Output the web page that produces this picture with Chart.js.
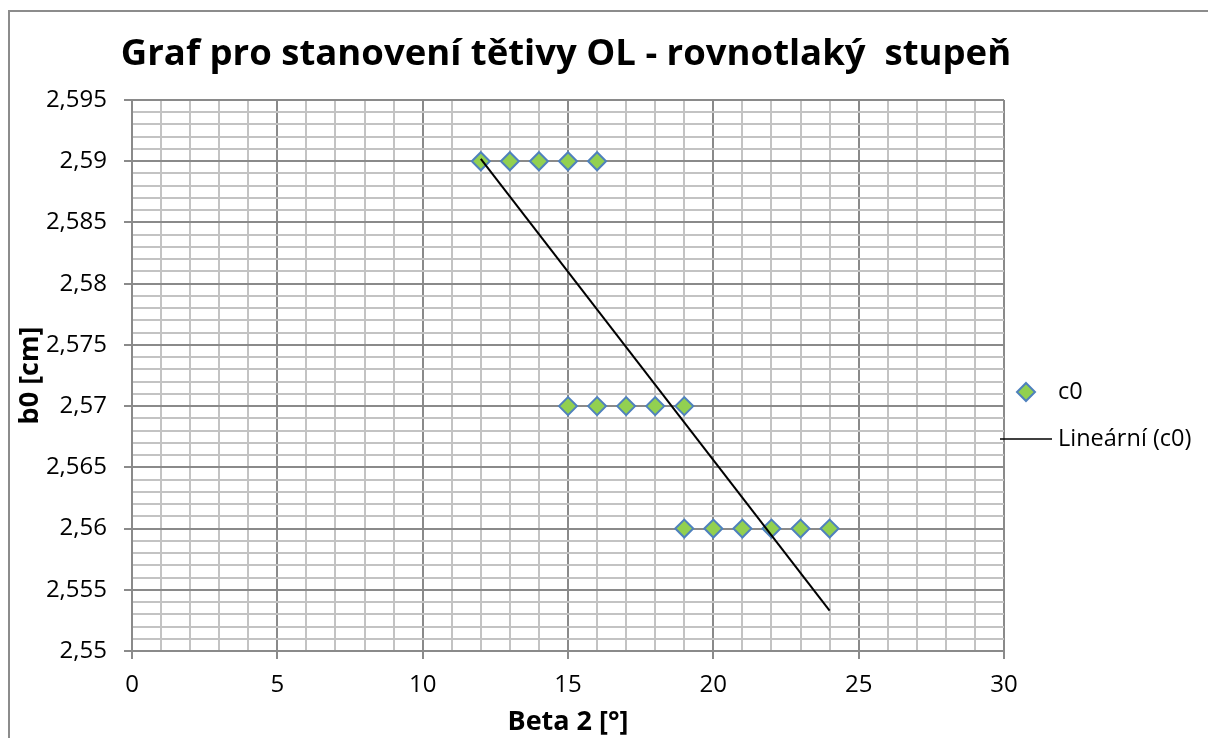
<!DOCTYPE html>
<html>
<head>
<meta charset="utf-8">
<script src="https://cdn.jsdelivr.net/npm/chart.js@4.4.1/dist/chart.umd.min.js"></script>
<style>
  html, body { margin: 0; padding: 0; background: #fff; overflow: hidden; }
  #frame { position: absolute; left: 8px; top: 10px; width: 2000px; height: 2000px;
           border-top: 2px solid #8c8c8c; border-left: 2px solid #8c8c8c; }
  #graf { position: absolute; left: 0; top: 0; }
</style>
</head>
<body>
<div id="frame"></div>
<canvas id="graf" width="1208" height="738"></canvas>
<script>
// measured points (Beta 2 vs. b0)
const betaX = [12, 13, 14, 15, 16, 15, 16, 17, 18, 19, 19, 20, 21, 22, 23, 24];
const c0Y = [2.59, 2.59, 2.59, 2.59, 2.59, 2.57, 2.57, 2.57, 2.57, 2.57, 2.56, 2.56, 2.56, 2.56, 2.56, 2.56];
// linear trend line end points
const trendX = [12, 24];
const trendY = [2.5902, 2.5533];
// axis tick labels
const xTickLabels = ['0', '5', '10', '15', '20', '25', '30'];
const yTickLabels = ['2,55', '2,555', '2,56', '2,565', '2,57', '2,575', '2,58', '2,585', '2,59', '2,595'];

const chartTitle = 'Graf pro stanovení tětivy OL - rovnotlaký  stupeň';
const majorColor = '#8a8a8a';
const minorColor = '#c3c3c3';
const fontName = '"Open Sans", Lato, sans-serif';

function isMajorX(v) { return Math.round(v) % 5 === 0; }
function isMajorY(v) { return Math.round(v * 1000) % 5 === 0; }

// title and legend drawn where Excel put them
const excelBits = {
    id: 'excelBits',
    afterDraw(chart) {
        const ctx = chart.ctx;
        ctx.save();
        ctx.fillStyle = '#000';
        ctx.textBaseline = 'middle';
        ctx.textAlign = 'center';
        ctx.font = 'bold 36.5px ' + fontName;
        ctx.fillText(chartTitle, 566, 55);

        // c0 marker
        const mx = 1026, my = 392, r = 9;
        ctx.beginPath();
        ctx.moveTo(mx, my - r);
        ctx.lineTo(mx + r, my);
        ctx.lineTo(mx, my + r);
        ctx.lineTo(mx - r, my);
        ctx.closePath();
        ctx.fillStyle = '#92d050';
        ctx.fill();
        ctx.lineWidth = 2;
        ctx.strokeStyle = '#4f81bd';
        ctx.stroke();
        // trend line sample
        ctx.beginPath();
        ctx.moveTo(1000, 439);
        ctx.lineTo(1052, 439);
        ctx.lineWidth = 1.5;
        ctx.strokeStyle = '#000';
        ctx.stroke();
        ctx.fillStyle = '#000';
        ctx.font = '23.5px ' + fontName;
        ctx.textAlign = 'left';
        ctx.fillText('c0', 1058, 392);
        ctx.fillText('Lineární (c0)', 1058, 439);
        ctx.restore();
    }
};

const ctx = document.getElementById('graf').getContext('2d');

new Chart(ctx, {
    type: 'scatter',
    data: {
        datasets: [{
            label: 'Lineární (c0)',
            data: trendX.map((x, i) => ({ x: x, y: trendY[i] })),
            showLine: true,
            borderColor: '#000',
            borderWidth: 2,
            pointRadius: 0,
            order: 0
        }, {
            label: 'c0',
            data: betaX.map((x, i) => ({ x: x, y: c0Y[i] })),
            pointStyle: 'rectRot',
            pointRadius: 9,
            pointHoverRadius: 9,
            backgroundColor: '#92d050',
            borderColor: '#4f81bd',
            borderWidth: 2,
            order: 1
        }]
    },
    options: {
        responsive: false,
        animation: false,
        events: [],
        layout: { padding: { left: 14, right: 204, top: 100, bottom: 0 } },
        plugins: {
            legend: { display: false },
            tooltip: { enabled: false },
            title: { display: false }
        },
        scales: {
            x: {
                type: 'linear',
                min: 0,
                max: 30,
                afterFit(scale) { scale.height = 87; },
                ticks: {
                    stepSize: 1,
                    autoSkip: false,
                    maxRotation: 0,
                    padding: 12,
                    color: '#000',
                    font: { family: fontName, size: 24 },
                    callback: v => isMajorX(v) ? xTickLabels[Math.round(v) / 5] : ''
                },
                grid: {
                    lineWidth: 2,
                    tickLength: 8,
                    color: c => isMajorX(c.tick.value) ? majorColor : minorColor,
                    tickColor: c => isMajorX(c.tick.value) ? majorColor : 'rgba(0,0,0,0)'
                },
                border: { color: majorColor, width: 2 },
                title: {
                    display: true,
                    text: 'Beta 2 [°]',
                    color: '#000',
                    font: { family: fontName, size: 27, weight: 'bold', lineHeight: '32px' },
                    padding: 0
                }
            },
            y: {
                type: 'linear',
                min: 2.55,
                max: 2.595,
                afterFit(scale) { scale.width = 118; },
                ticks: {
                    stepSize: 0.001,
                    autoSkip: false,
                    padding: 17,
                    color: '#000',
                    font: { family: fontName, size: 24 },
                    callback: v => isMajorY(v) ? yTickLabels[Math.round((v - 2.55) * 200)] : ''
                },
                grid: {
                    lineWidth: 2,
                    tickLength: 8,
                    color: c => isMajorY(c.tick.value) ? majorColor : minorColor,
                    tickColor: c => isMajorY(c.tick.value) ? majorColor : 'rgba(0,0,0,0)'
                },
                border: { color: majorColor, width: 2 },
                title: {
                    display: true,
                    text: 'b0 [cm]',
                    color: '#000',
                    font: { family: fontName, size: 27, weight: 'bold', lineHeight: '32px' },
                    padding: 0
                }
            }
        }
    },
    plugins: [excelBits]
});
</script>
</body>
</html>
